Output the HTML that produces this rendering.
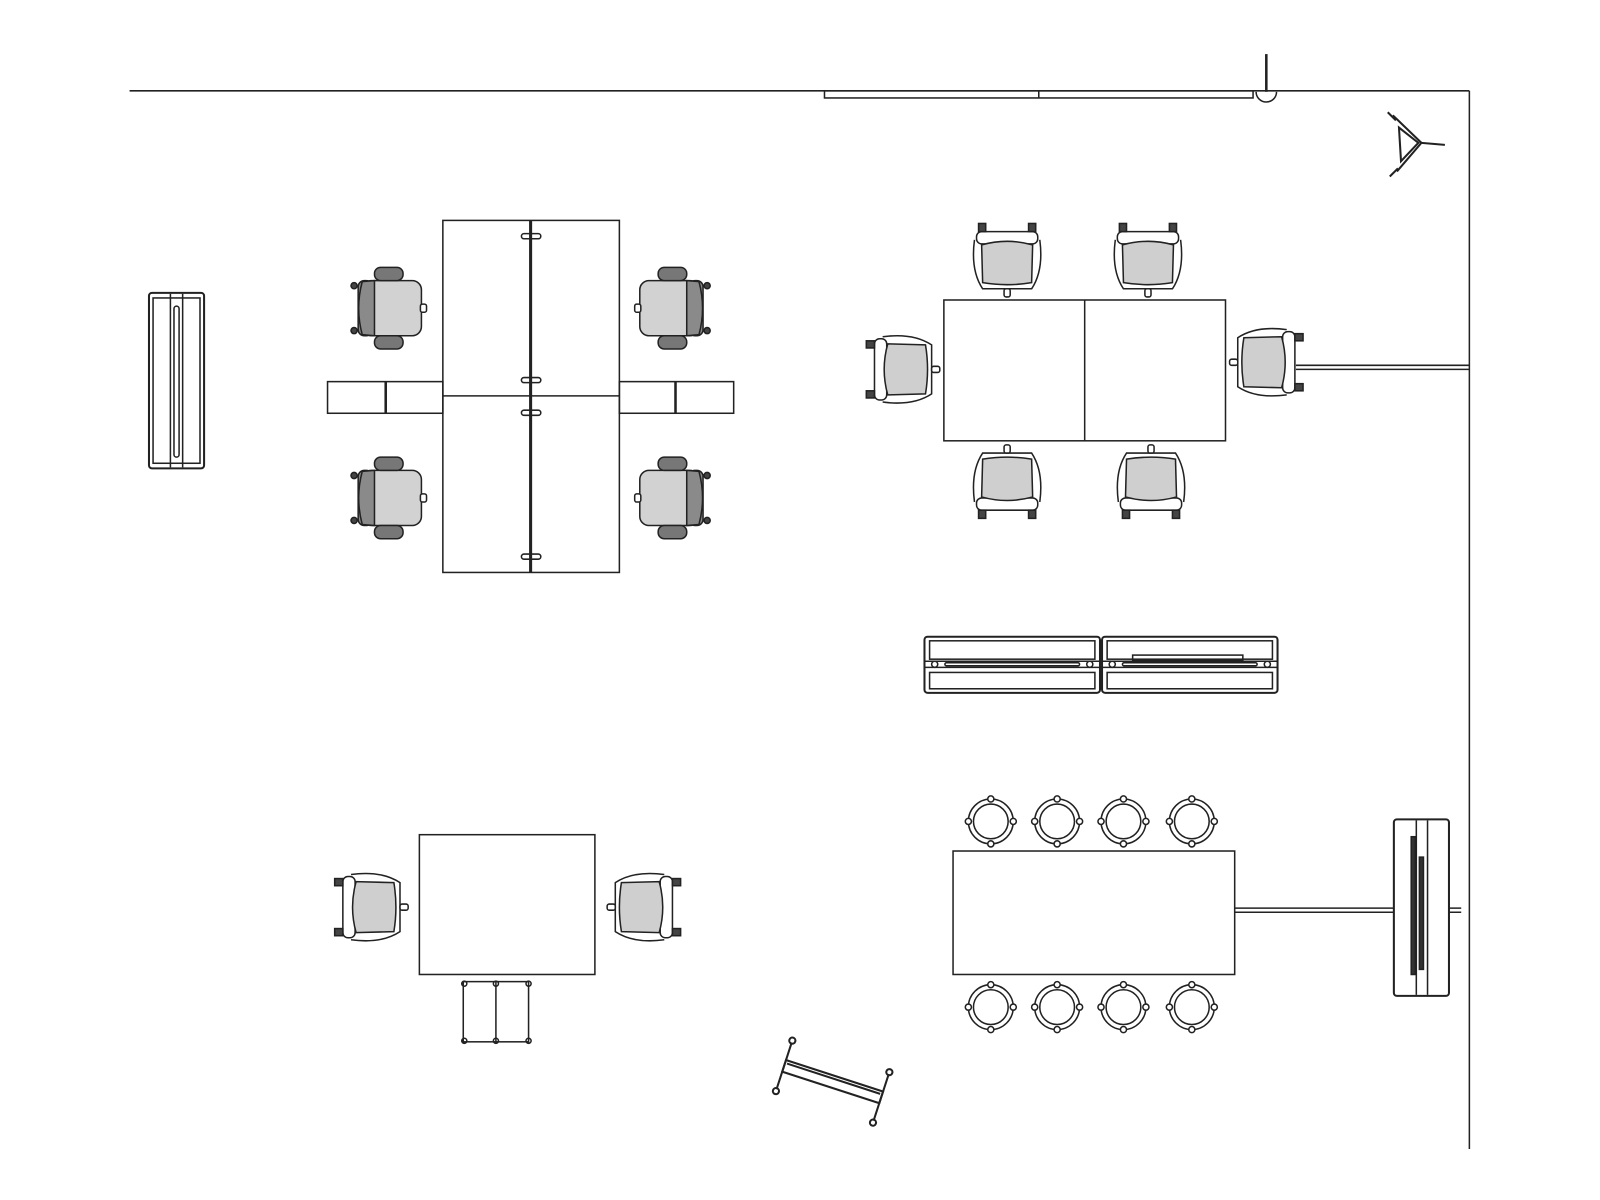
<!DOCTYPE html>
<html><head><meta charset="utf-8"><style>html,body{margin:0;padding:0;background:#fff}svg{display:block}</style></head>
<body>
<svg width="1600" height="1200" viewBox="0 0 1600 1200" xmlns="http://www.w3.org/2000/svg" fill="none" stroke="#222" stroke-width="1.5">
<defs>
  <g id="tc">
    <rect x="-30" y="-27" width="14" height="54" rx="6" fill="#888" />
    <rect x="-26" y="-27" width="58" height="54" rx="9" fill="#d2d2d2"/>
    <path d="M-26,-26 L-14,-27 L-14,27 L-26,26 Q-33,0 -26,-26Z" fill="#8a8a8a"/>
    <rect x="-14" y="-40" width="28" height="13" rx="6" fill="#777"/>
    <rect x="-14" y="27" width="28" height="13" rx="6" fill="#777"/>
    <rect x="31" y="-4" width="6" height="8" rx="2" fill="#fff"/>
    <circle cx="-34" cy="-22" r="3" fill="#444"/><circle cx="-34" cy="22" r="3" fill="#444"/>
  </g>
  <g id="cc">
    <path d="M-32,-20 Q-36,10 -24,28 L24,28 Q36,10 32,-20" fill="#fff"/>
    <rect x="-30" y="-28" width="60" height="12" rx="5" fill="#fff"/>
    <path d="M-25,-15 Q0,-22 25,-15 L24,22 Q0,26 -24,22Z" fill="#cfcfcf"/>
    <rect x="-28" y="-36" width="7" height="8" fill="#444"/><rect x="21" y="-36" width="7" height="8" fill="#444"/>
    <rect x="-3" y="28" width="6" height="8" rx="2" fill="#fff"/>
  </g>
  <g id="st">
    <circle r="22" fill="#fff"/><circle r="17"/>
    <circle cx="0" cy="-22" r="3" fill="#fff"/><circle cx="0" cy="22" r="3" fill="#fff"/>
    <circle cx="-22" cy="0" r="3" fill="#fff"/><circle cx="22" cy="0" r="3" fill="#fff"/>
  </g>
  <g id="cr">
    <rect x="0" y="0" width="172" height="55" rx="3" fill="#fff" stroke-width="2"/>
    <rect x="5" y="4" width="162" height="18"/>
    <line x1="0" y1="24" x2="172" y2="24"/><line x1="0" y1="30" x2="172" y2="30"/>
    <rect x="20" y="25.5" width="132" height="3" rx="1.5"/>
    <circle cx="10" cy="27" r="3"/><circle cx="162" cy="27" r="3"/>
    <rect x="5" y="35" width="162" height="16"/>
  </g>
</defs>
<g transform="scale(1.0204)">
<line x1="127" y1="89" x2="1440" y2="89"/>
<line x1="1440" y1="89" x2="1440" y2="1126"/>
<rect x="808" y="89" width="420" height="7"/>
<line x1="1018" y1="89" x2="1018" y2="96"/>
<line x1="1241" y1="53" x2="1241" y2="90" stroke-width="2.5"/>
<path d="M1231,90 A10,10 0 0 0 1251,90"/>
<g stroke-width="2">
<path d="M1365,113 L1393,140 L1369,168" />
<path d="M1371,125 L1390,140 L1373,158 Z"/>
<line x1="1393" y1="140" x2="1416" y2="142"/>
<line x1="1360" y1="110" x2="1368" y2="118"/><line x1="1362" y1="173" x2="1370" y2="165"/>
</g>
<rect x="146" y="287" width="54" height="172" rx="3" stroke-width="2"/>
<rect x="150" y="292" width="46" height="162"/>
<line x1="167" y1="288" x2="167" y2="458"/><line x1="179" y1="288" x2="179" y2="458"/>
<rect x="170.5" y="300" width="5" height="148" rx="2.5"/>
<rect x="434" y="216" width="173" height="345" fill="#fff"/>
<line x1="434" y1="388" x2="607" y2="388"/>
<line x1="520" y1="216" x2="520" y2="561" stroke-width="3"/>
<rect x="511" y="229" width="19" height="5" rx="2.5"/><rect x="511" y="370" width="19" height="5" rx="2.5"/>
<rect x="511" y="402" width="19" height="5" rx="2.5"/><rect x="511" y="543" width="19" height="5" rx="2.5"/>
<rect x="321" y="374" width="113" height="31"/><line x1="378" y1="374" x2="378" y2="405" stroke-width="2.5"/>
<rect x="607" y="374" width="112" height="31"/><line x1="662" y1="374" x2="662" y2="405" stroke-width="2.5"/>
<use href="#tc" transform="translate(381,302)"/>
<use href="#tc" transform="translate(381,488)"/>
<use href="#tc" transform="translate(659,302) scale(-1,1)"/>
<use href="#tc" transform="translate(659,488) scale(-1,1)"/>
<rect x="925" y="294" width="276" height="138"/>
<line x1="1063" y1="294" x2="1063" y2="432"/>
<use href="#cc" transform="translate(987,255)"/>
<use href="#cc" transform="translate(1125,255)"/>
<use href="#cc" transform="translate(987,472) rotate(180)"/>
<use href="#cc" transform="translate(1128,472) rotate(180)"/>
<use href="#cc" transform="translate(885,362) rotate(-90)"/>
<use href="#cc" transform="translate(1241,355) rotate(90)"/>
<line x1="1270" y1="358" x2="1440" y2="358"/><line x1="1270" y1="362" x2="1440" y2="362"/>
<use href="#cr" transform="translate(906,624)"/>
<use href="#cr" transform="translate(1080,624)"/>
<rect x="1110" y="642" width="108" height="5"/>
<rect x="411" y="818" width="172" height="137"/>
<use href="#cc" transform="translate(364,889) rotate(-90)"/>
<use href="#cc" transform="translate(631,889) rotate(90)"/>
<rect x="454" y="962" width="64" height="59"/><line x1="486" y1="962" x2="486" y2="1021"/>
<circle cx="455" cy="964" r="2.5"/><circle cx="486" cy="964" r="2.5"/><circle cx="518" cy="964" r="2.5"/>
<circle cx="455" cy="1020" r="2.5"/><circle cx="486" cy="1020" r="2.5"/><circle cx="518" cy="1020" r="2.5"/>
<rect x="934" y="834" width="276" height="121"/>
<use href="#st" transform="translate(971,805)"/><use href="#st" transform="translate(1036,805)"/>
<use href="#st" transform="translate(1101,805)"/><use href="#st" transform="translate(1168,805)"/>
<use href="#st" transform="translate(971,987)"/><use href="#st" transform="translate(1036,987)"/>
<use href="#st" transform="translate(1101,987)"/><use href="#st" transform="translate(1168,987)"/>
<line x1="1210" y1="890" x2="1432" y2="890"/><line x1="1210" y1="894" x2="1432" y2="894"/>
<rect x="1366" y="803" width="54" height="173" rx="3" stroke-width="2" fill="#fff"/>
<line x1="1388" y1="804" x2="1388" y2="975"/><line x1="1399" y1="804" x2="1399" y2="975"/>
<rect x="1383" y="820" width="4" height="135" fill="#333"/><rect x="1391" y="840" width="4" height="110" fill="#333"/>
<g transform="translate(816,1060) rotate(18)" stroke-width="2">
<rect x="-50" y="-6" width="100" height="12" fill="#fff"/>
<line x1="-50" y1="-24" x2="-50" y2="24"/><line x1="50" y1="-24" x2="50" y2="24"/>
<circle cx="-50" cy="-26" r="3"/><circle cx="-50" cy="26" r="3"/><circle cx="50" cy="-26" r="3"/><circle cx="50" cy="26" r="3"/>
<line x1="-48" y1="-3" x2="48" y2="-3"/>
</g>
</g>
</svg>
</body></html>
